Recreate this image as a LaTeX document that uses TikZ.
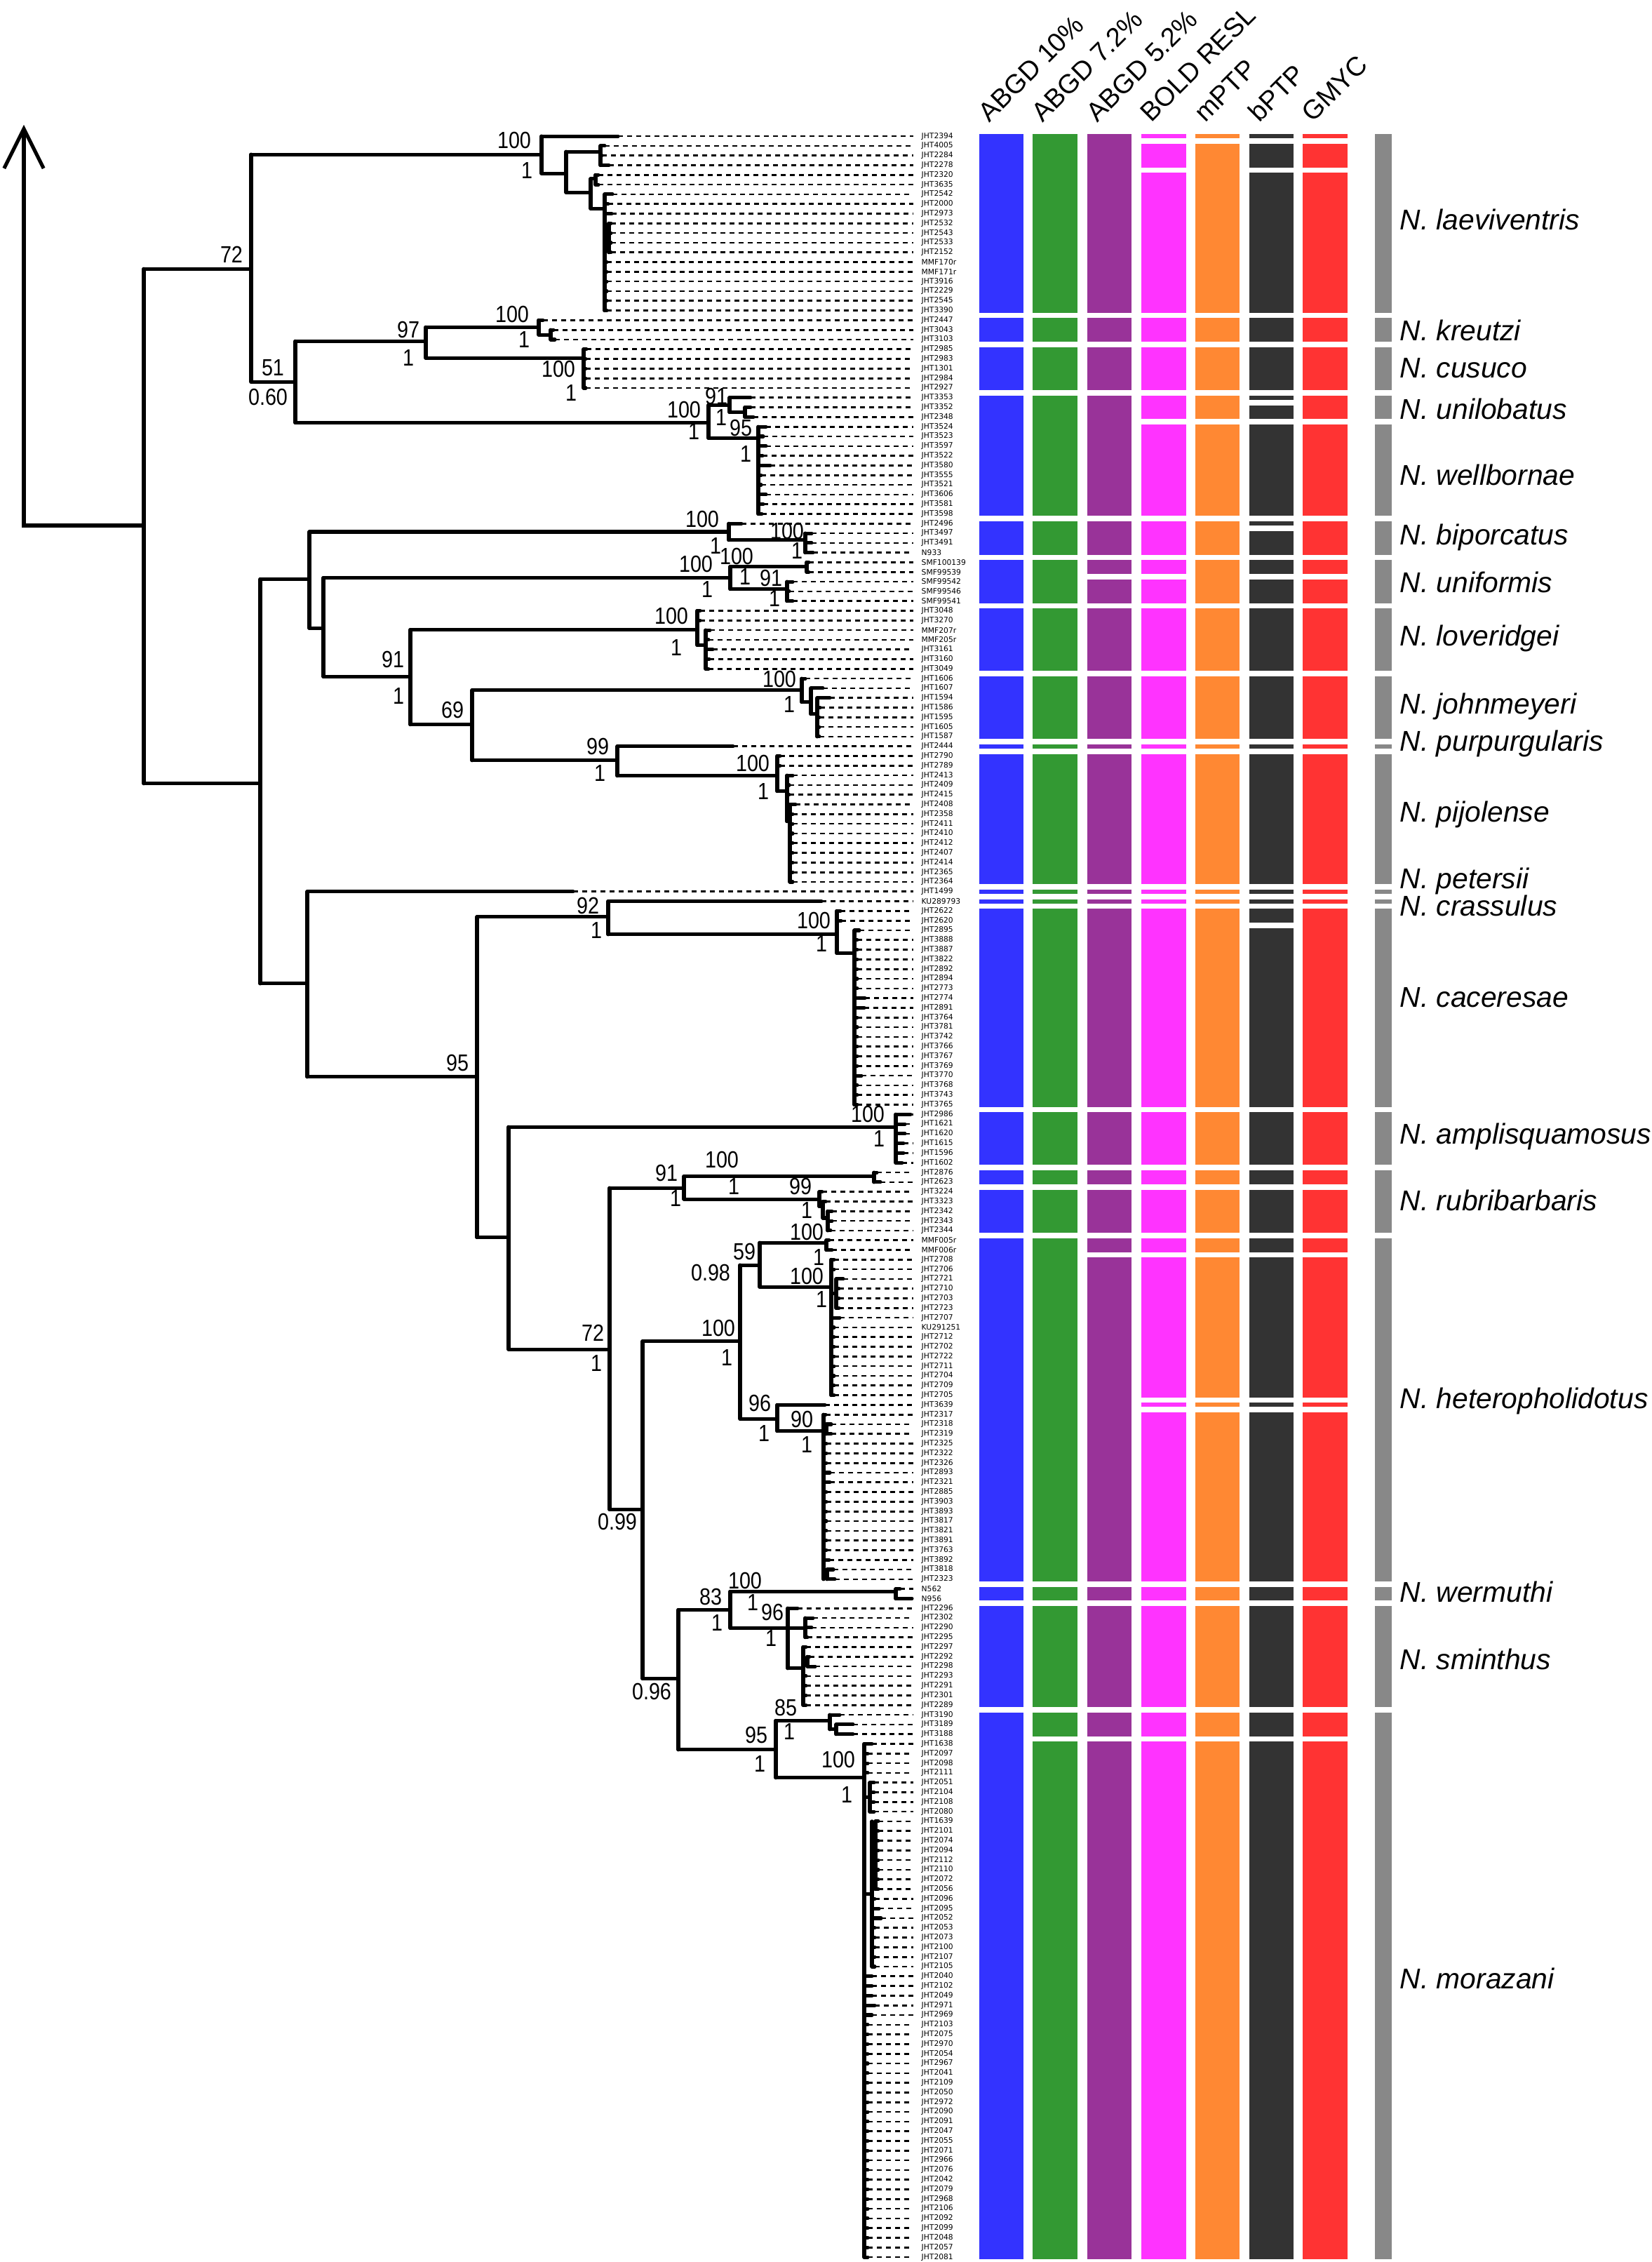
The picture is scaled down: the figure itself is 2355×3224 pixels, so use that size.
\documentclass[tikz,border=0pt]{standalone}
\usepackage{fontspec}
\setmainfont{Liberation Sans}
\newfontfamily\tipfont{DejaVu Sans}
\newfontfamily\supfont[FakeStretch=0.86]{Liberation Sans}
\usetikzlibrary{arrows.meta}
\tikzset{>={Straight Barb[length=16pt,width=16pt]}}
\definecolor{abgdblue}{HTML}{3333FF}
\definecolor{abgdgreen}{HTML}{339933}
\definecolor{abgdpurple}{HTML}{993399}
\definecolor{boldpink}{HTML}{FF33FF}
\definecolor{mptporange}{HTML}{FF8833}
\definecolor{bptpgrey}{HTML}{333333}
\definecolor{gmycred}{HTML}{FF3333}
\definecolor{spgrey}{HTML}{888888}
\tikzset{
  branch/.style={line width=1.45pt, line cap=round},
  tipline/.style={line width=0.75pt, dash pattern=on 1.9pt off 1.8pt},
  tiplab/.style={anchor=west, inner sep=0pt, font=\tipfont\fontsize{3.05}{3.5}\selectfont},
  supp/.style={inner sep=0pt, font=\supfont\fontsize{9.5}{10}\selectfont},
  species/.style={anchor=west, inner sep=0pt, font=\fontsize{11.6}{13}\selectfont\itshape},
  method/.style={anchor=base west, rotate=45, inner sep=0pt, font=\fontsize{10.8}{12}\selectfont},
}
%% one column of delimitation bars: x1, x2, colour, list of tip ranges
\newcommand\sdbars[4]{\foreach \ya/\yb in {#4} \fill[#3] (#1,\ya-0.22) rectangle (#2,\yb+0.22);}

\begin{document}
\begin{tikzpicture}[x=0.01cm, y=-0.01cm]
\useasboundingbox[fill=white] (0,0) rectangle (2355,3224);

%% root and arrow
\draw[branch, ->] (205,749) -- (34,749) -- (34,178);

%% method names
\foreach \xl/\nm [count=\k] in {1396/ABGD 10\%, 1472/ABGD 7.2\%, 1550/ABGD 5.2\%,
  1627/BOLD RESL, 1704/mPTP, 1781/bPTP, 1857/GMYC}
  \node[method] (m\k) at (\xl+14,176) {\nm};

%% support values (bootstrap above, posterior below)
\foreach \x/\y/\v [count=\k] in {330/363/72, 733/200/100, 751/243/1, 582/470/97, 582/510/1,
  389/524/51, 382/566/0.60, 730/448/100, 747/484/1, 796/526/100, 814/560/1,
  975/584/100, 989/615/1, 1021/565/91, 1028/595/1, 1056/610/95, 1063/647/1,
  1001/740/100, 1020/778/1, 1122/757/100, 1136/785/1, 992/804/100, 1008/840/1,
  1050/793/100, 1062/822/1, 1099/824/91, 1104/853/1, 560/940/91, 568/992/1,
  957/878/100, 964/923/1, 645/1012/69, 1111/968/100, 1125/1004/1,
  852/1064/99, 855/1102/1, 1073/1088/100, 1088/1128/1, 838/1291/92, 850/1326/1,
  1160/1312/100, 1171/1345/1, 652/1515/95, 1237/1588/100, 1253/1623/1,
  845/1900/72, 850/1943/1, 950/1672/91, 963/1708/1, 1029/1653/100, 1046/1691/1,
  1141/1691/99, 1150/1725/1, 1150/1756/100, 1167/1792/1, 1061/1784/59, 1013/1814/0.98,
  1150/1819/100, 1171/1852/1, 1024/1893/100, 1036/1935/1, 880/2169/0.99,
  1083/2000/96, 1089/2043/1, 1143/2023/90, 1150/2059/1, 929/2411/0.96,
  1013/2276/83, 1022/2313/1, 1062/2253/100, 1073/2284/1, 1101/2298/96, 1099/2335/1,
  1120/2434/85, 1125/2468/1, 1078/2473/95, 1083/2514/1, 1195/2508/100, 1207/2558/1}
  \node[supp] (sv\k) at (\x,\y) {\v};

%% species names
\foreach \y/\nm [count=\k] in {313/laeviventris, 471/kreutzi, 525/cusuco, 583/unilobatus,
  677/wellbornae, 766/biporcatus, 830/uniformis, 910/loveridgei, 1007/johnmeyeri,
  1060/purpurgularis, 1161/pijolense, 1256/petersii, 1291/crassulus, 1422/caceresae,
  1620/amplisquamosus, 1711/rubribarbaris, 1997/heteropholidotus, 2269/wermuthi,
  2365/sminthus, 2820/morazani}
  \node[species] (sp\k) at (1995,\y) {N. \nm};

%% y in tip rows from here on
\begin{scope}[yshift=-1.94cm, y=-0.13795cm]

%% internal nodes: x, first row, last row
\foreach \x/\ya/\yb in {205/13.70/66.84, 358/1.88/25.37, 772/0/3.84, 807/1.6/5.8,
  856/1/3, 842/4.4/7.47, 849/4/5, 862/6/18, 868/9/12, 421/21.17/29.58,
  607/19.72/22.9, 768/19/20.5, 785/20/21, 832/22/26, 1010/27.76/31.17,
  1040/27/28.5, 1062/28/29, 1081/30/39, 371/45.74/87.5, 441/40.85/50.8,
  1039/40/41.7, 1148/41/43, 461/45.6/55.8, 1041/44.44/46.76, 1150/44/45,
  1122/46/48, 585/50.96/60.75, 994/49/52.55, 1006/51/55, 673/57.2/64.45,
  1143/56/58.43, 1156/57/59.66, 1165/58/62, 880/63/66.04, 1108/64/67.63,
  1122/66/70.75, 1126/69/77, 438/78/97.13, 680/80.6/113.7, 867/79/82.42,
  1193/80/84.35, 1218/82/100, 725/102.3/125.26, 1277/101/106, 869/108.6/141.8,
  975/107.4/109.75, 1246/107/108, 1168/109/110.5, 1173/110/111.7, 1180/111/113,
  916/124.43/159.26, 1055/116.56/132.44, 1083/114.25/118.81, 1178/114/115,
  1185/116/130, 1192/118/121, 1108/131/133.7, 1174/132/149, 1178/133/134,
  1179/148/149, 967/152.16/166.6, 1041/150.27/154.04, 1277/150/151,
  1123/152/158.2, 1148/153/155, 1145/156/162, 1151/157/158, 1106/163.6/169.5,
  1183/163/164.5, 1192/164/165, 1232/166/219, 1240/170/173, 1243/174/189,
  1248/174/181}
  \draw[branch] (\x,\ya) -- (\x,\yb);

%% internal branches: parent x, child x, row
\foreach \xa/\xb/\ya in {205/358/13.70, 205/371/66.84, 358/772/1.88, 358/421/25.37,
  772/807/3.84, 807/856/1.6, 807/842/5.8, 842/849/4.4, 842/862/7.47, 862/868/10.5,
  421/607/21.17, 421/1010/29.58, 607/768/19.72, 607/832/22.9, 768/785/20.5,
  1010/1040/27.76, 1010/1081/31.17, 1040/1062/28.5, 371/441/45.74, 371/438/87.5,
  441/1039/40.85, 441/461/50.8, 1039/1148/41.7, 461/1041/45.6, 461/585/55.8,
  1041/1150/44.44, 1041/1122/46.76, 585/994/50.96, 585/673/60.75, 994/1006/52.55,
  673/1143/57.2, 673/880/64.45, 1143/1156/58.43, 1156/1165/59.66, 880/1108/66.04,
  1108/1122/67.63, 1122/1126/70.75, 438/680/97.13, 680/867/80.6, 680/725/113.7,
  867/1193/82.42, 1193/1218/84.35, 725/1277/102.3, 725/869/125.26, 869/975/108.6,
  869/916/141.8, 975/1246/107.4, 975/1168/109.75, 1168/1173/110.5, 1173/1180/111.7,
  916/1055/124.43, 916/967/159.26, 1055/1083/116.56, 1055/1108/132.44,
  1083/1178/114.25, 1083/1185/118.81, 1185/1192/119.5, 1108/1174/133.7,
  1174/1178/133.5, 1174/1179/148.5, 967/1041/152.16, 967/1106/166.6,
  1041/1277/150.27, 1041/1148/154.04, 1123/1145/158.2, 1145/1151/157.5,
  1106/1183/163.6, 1106/1232/169.5, 1183/1192/164.5, 1232/1240/171.5,
  1232/1243/181.5, 1243/1248/177.5}
  \draw[branch] (\xa,\ya) -- (\xb,\ya);

%% tips: label / parent x / tip x
\foreach \lab/\px/\tx [count=\i from 0] in {JHT2394/772/881, JHT4005/856/862,
  JHT2284/856/858, JHT2278/856/868, JHT2320/849/853, JHT3635/849/853, JHT2542/862/873,
  JHT2000/862/867, JHT2973/862/872, JHT2532/868/871, JHT2543/868/871, JHT2533/868/871,
  JHT2152/868/871, MMF170r/862/865, MMF171r/862/865, JHT3916/862/865, JHT2229/862/865,
  JHT2545/862/865, JHT3390/862/865,
  JHT2447/768/774, JHT3043/785/789, JHT3103/785/791,
  JHT2985/832/836, JHT2983/832/835, JHT1301/832/835, JHT2984/832/835, JHT2927/832/835,
  JHT3353/1040/1070, JHT3352/1062/1070, JHT2348/1062/1074,
  JHT3524/1081/1092, JHT3523/1081/1088, JHT3597/1081/1092, JHT3522/1081/1087,
  JHT3580/1081/1098, JHT3555/1081/1085, JHT3521/1081/1085, JHT3606/1081/1092,
  JHT3581/1081/1088, JHT3598/1081/1086,
  JHT2496/1039/1057, JHT3497/1148/1157, JHT3491/1148/1157, N933/1148/1159,
  SMF100139/1150/1153, SMF99539/1150/1153, SMF99542/1122/1130, SMF99546/1122/1125,
  SMF99541/1122/1130,
  JHT3048/994/998, JHT3270/994/998, MMF207r/1006/1012, MMF205r/1006/1010,
  JHT3161/1006/1016, JHT3160/1006/1011, JHT3049/1006/1010,
  JHT1606/1143/1148, JHT1607/1156/1173, JHT1594/1165/1183, JHT1586/1165/1169,
  JHT1595/1165/1168, JHT1605/1165/1168, JHT1587/1165/1168,
  JHT2444/880/1045,
  JHT2790/1108/1112, JHT2789/1108/1112, JHT2413/1122/1130, JHT2409/1122/1125,
  JHT2415/1122/1125, JHT2408/1126/1134, JHT2358/1126/1130, JHT2411/1126/1130,
  JHT2410/1126/1130, JHT2412/1126/1130, JHT2407/1126/1130, JHT2414/1126/1130,
  JHT2365/1126/1130, JHT2364/1126/1130,
  JHT1499/438/817, KU289793/867/1171,
  JHT2622/1193/1198, JHT2620/1193/1199, JHT2895/1218/1225, JHT3888/1218/1222,
  JHT3887/1218/1222, JHT3822/1218/1222, JHT2892/1218/1222, JHT2894/1218/1222,
  JHT2773/1218/1222, JHT2774/1218/1233, JHT2891/1218/1232, JHT3764/1218/1222,
  JHT3781/1218/1222, JHT3742/1218/1222, JHT3766/1218/1222, JHT3767/1218/1222,
  JHT3769/1218/1222, JHT3770/1218/1228, JHT3768/1218/1222, JHT3743/1218/1222,
  JHT3765/1218/1222,
  JHT2986/1277/1298, JHT1621/1277/1290, JHT1620/1277/1290, JHT1615/1277/1288,
  JHT1596/1277/1288, JHT1602/1277/1286,
  JHT2876/1246/1250, JHT2623/1246/1255, JHT3224/1168/1172, JHT3323/1173/1177,
  JHT2342/1180/1186, JHT2343/1180/1186, JHT2344/1180/1184,
  MMF005r/1178/1182, MMF006r/1178/1186, JHT2708/1185/1189, JHT2706/1185/1189,
  JHT2721/1192/1202, JHT2710/1192/1196, JHT2703/1192/1196, JHT2723/1192/1196,
  JHT2707/1185/1197, KU291251/1185/1189, JHT2712/1185/1189, JHT2702/1185/1189,
  JHT2722/1185/1189, JHT2711/1185/1189, JHT2704/1185/1189, JHT2709/1185/1189,
  JHT2705/1185/1189,
  JHT3639/1108/1176, JHT2317/1174/1177, JHT2318/1178/1185, JHT2319/1178/1185,
  JHT2325/1174/1178, JHT2322/1174/1178, JHT2326/1174/1178, JHT2893/1174/1183,
  JHT2321/1174/1183, JHT2885/1174/1178, JHT3903/1174/1178, JHT3893/1174/1178,
  JHT3817/1174/1178, JHT3821/1174/1178, JHT3891/1174/1178, JHT3763/1174/1178,
  JHT3892/1174/1182, JHT3818/1179/1188, JHT2323/1179/1190,
  N562/1277/1283, N956/1277/1300,
  JHT2296/1123/1137, JHT2302/1148/1159, JHT2290/1148/1157, JHT2295/1148/1151,
  JHT2297/1145/1149, JHT2292/1151/1154, JHT2298/1151/1162, JHT2293/1145/1149,
  JHT2291/1145/1149, JHT2301/1145/1149, JHT2289/1145/1149,
  JHT3190/1183/1197, JHT3189/1192/1216, JHT3188/1192/1216,
  JHT1638/1232/1243, JHT2097/1232/1237, JHT2098/1232/1237, JHT2111/1232/1237,
  JHT2051/1240/1246, JHT2104/1240/1246, JHT2108/1240/1246, JHT2080/1240/1246,
  JHT1639/1248/1252, JHT2101/1248/1252, JHT2074/1248/1252, JHT2094/1248/1252,
  JHT2112/1248/1252, JHT2110/1248/1252, JHT2072/1248/1252, JHT2056/1248/1252,
  JHT2096/1243/1247, JHT2095/1243/1253, JHT2052/1243/1256, JHT2053/1243/1247,
  JHT2073/1243/1247, JHT2100/1243/1247, JHT2107/1243/1247, JHT2105/1243/1247,
  JHT2040/1232/1243, JHT2102/1232/1243, JHT2049/1232/1243, JHT2971/1232/1247,
  JHT2969/1232/1243,
  JHT2103/1232/1237, JHT2075/1232/1237, JHT2970/1232/1237, JHT2054/1232/1237,
  JHT2967/1232/1237, JHT2041/1232/1237, JHT2109/1232/1237, JHT2050/1232/1237,
  JHT2972/1232/1237, JHT2090/1232/1237, JHT2091/1232/1237, JHT2047/1232/1237,
  JHT2055/1232/1237, JHT2071/1232/1237, JHT2966/1232/1237, JHT2076/1232/1237,
  JHT2042/1232/1237, JHT2079/1232/1237, JHT2968/1232/1237, JHT2106/1232/1237,
  JHT2092/1232/1237, JHT2099/1232/1237, JHT2048/1232/1237, JHT2057/1232/1237,
  JHT2081/1232/1237}
{
  \draw[branch] (\px,\i) -- (\tx,\i);
  \draw[tipline] (\tx,\i) -- (1302,\i);
  \node[tiplab] (t\i) at (1313,\i) {\lab};
}

%% delimitation bars
\sdbars{1396}{1459}{abgdblue}{0/18,19/21,22/26,27/39,40/43,44/48,49/55,56/62,63/63,64/77,78/78,79/79,80/100,101/106,107/108,109/113,114/149,150/151,152/162,163/219}
\sdbars{1472}{1536}{abgdgreen}{0/18,19/21,22/26,27/39,40/43,44/48,49/55,56/62,63/63,64/77,78/78,79/79,80/100,101/106,107/108,109/113,114/149,150/151,152/162,163/165,166/219}
\sdbars{1550}{1613}{abgdpurple}{0/18,19/21,22/26,27/39,40/43,44/45,46/48,49/55,56/62,63/63,64/77,78/78,79/79,80/100,101/106,107/108,109/113,114/115,116/149,150/151,152/162,163/165,166/219}
\sdbars{1627}{1691}{boldpink}{0/0,1/3,4/18,19/21,22/26,27/29,30/39,40/43,44/45,46/48,49/55,56/62,63/63,64/77,78/78,79/79,80/100,101/106,107/108,109/113,114/115,116/130,131/131,132/149,150/151,152/162,163/165,166/219}
\sdbars{1704}{1767}{mptporange}{0/0,1/18,19/21,22/26,27/29,30/39,40/43,44/48,49/55,56/62,63/63,64/77,78/78,79/79,80/100,101/106,107/108,109/113,114/115,116/130,131/131,132/149,150/151,152/162,163/165,166/219}
\sdbars{1781}{1844}{bptpgrey}{0/0,1/3,4/18,19/21,22/26,27/27,28/29,30/39,40/40,41/43,44/45,46/48,49/55,56/62,63/63,64/77,78/78,79/79,80/81,82/100,101/106,107/108,109/113,114/115,116/130,131/131,132/149,150/151,152/162,163/165,166/219}
\sdbars{1857}{1921}{gmycred}{0/0,1/3,4/18,19/21,22/26,27/29,30/39,40/43,44/45,46/48,49/55,56/62,63/63,64/77,78/78,79/79,80/100,101/106,107/108,109/113,114/115,116/130,131/131,132/149,150/151,152/162,163/165,166/219}
\sdbars{1960}{1984}{spgrey}{0/18,19/21,22/26,27/29,30/39,40/43,44/48,49/55,56/62,63/63,64/77,78/78,79/79,80/100,101/106,107/113,114/149,150/151,152/162,163/219}

\end{scope}
\end{tikzpicture}
\end{document}
